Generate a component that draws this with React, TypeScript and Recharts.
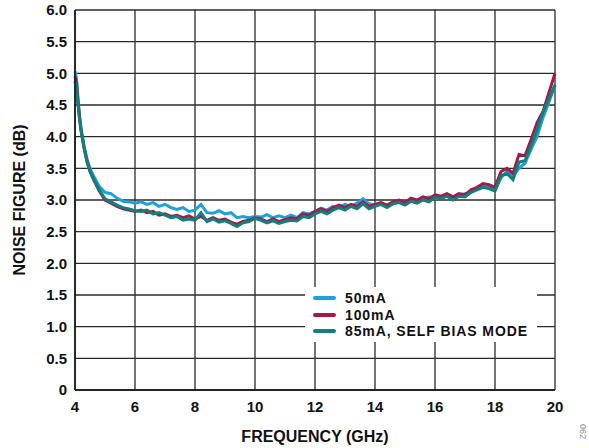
import React from 'react';
import { LineChart, Line, XAxis, YAxis, CartesianGrid, Label } from 'recharts';

const freqGHz = [
  4.0, 4.05, 4.1, 4.15, 4.2, 4.3, 4.4, 4.5, 4.6, 4.8,
  5.0, 5.2, 5.4, 5.6, 5.8, 6.0, 6.2, 6.4, 6.6, 6.8,
  7.0, 7.2, 7.4, 7.6, 7.8, 8.0, 8.2, 8.4, 8.6, 8.8,
  9.0, 9.2, 9.4, 9.6, 9.8, 10.0, 10.2, 10.4, 10.6, 10.8,
  11.0, 11.2, 11.4, 11.6, 11.8, 12.0, 12.2, 12.4, 12.6, 12.8,
  13.0, 13.2, 13.4, 13.6, 13.8, 14.0, 14.2, 14.4, 14.6, 14.8,
  15.0, 15.2, 15.4, 15.6, 15.8, 16.0, 16.2, 16.4, 16.6, 16.8,
  17.0, 17.2, 17.4, 17.6, 17.8, 18.0, 18.2, 18.4, 18.6, 18.8,
  19.0, 19.2, 19.4, 19.6, 19.8, 20.0,
];

// 50mA
const nf50 = [
  5.03, 4.92, 4.62, 4.35, 4.15, 3.86, 3.65, 3.5, 3.4, 3.22,
  3.12, 3.1, 3.03, 2.98, 2.97, 2.95, 2.97, 2.93, 2.96, 2.9,
  2.93, 2.88, 2.85, 2.88, 2.82, 2.84, 2.93, 2.8, 2.79, 2.83,
  2.78, 2.8, 2.72, 2.74, 2.72, 2.74, 2.73, 2.77, 2.72, 2.75,
  2.72, 2.76, 2.72, 2.8, 2.78, 2.82, 2.87, 2.84, 2.9, 2.88,
  2.93, 2.9, 2.95, 3.02, 2.94, 2.92, 2.95, 2.9, 2.95, 2.97,
  2.95, 3.0, 2.97, 3.0, 3.05, 3.02, 3.04, 3.07, 3.02, 3.08,
  3.1, 3.12, 3.18, 3.22, 3.2, 3.16, 3.35, 3.45, 3.38, 3.5,
  3.58, 3.8, 4.0, 4.3, 4.55, 4.8,
];

// 100mA
const nf100 = [
  4.95, 4.85, 4.55, 4.3, 4.1, 3.82, 3.6, 3.45, 3.34, 3.15,
  3.0, 2.95, 2.9, 2.86, 2.84, 2.82, 2.84, 2.8, 2.82, 2.76,
  2.78, 2.74, 2.76, 2.72, 2.75, 2.7, 2.74, 2.68, 2.72, 2.68,
  2.7, 2.65, 2.62, 2.66, 2.68, 2.72, 2.7, 2.66, 2.7, 2.66,
  2.69, 2.72, 2.7, 2.78, 2.76, 2.82, 2.86, 2.82, 2.88, 2.92,
  2.88, 2.93, 2.9, 2.97, 2.9, 2.93, 2.96, 2.92, 2.97, 3.0,
  2.96, 3.03, 3.0, 3.05, 3.02, 3.08, 3.06, 3.1, 3.05, 3.1,
  3.08, 3.16, 3.2, 3.26, 3.24, 3.2, 3.45, 3.5, 3.42, 3.72,
  3.7, 3.95, 4.22, 4.4, 4.7, 5.0,
];

// 85mA, self bias mode
const nf85 = [
  4.88, 4.75, 4.5, 4.28, 4.1, 3.84, 3.62, 3.46, 3.35, 3.17,
  3.02, 2.97, 2.92, 2.88, 2.86, 2.83, 2.82, 2.84, 2.78, 2.8,
  2.76, 2.72, 2.74, 2.68, 2.7, 2.68, 2.8, 2.66, 2.7, 2.65,
  2.67, 2.63, 2.58, 2.64, 2.66, 2.71, 2.68, 2.64, 2.67, 2.63,
  2.66, 2.68, 2.67, 2.74, 2.72, 2.78, 2.82, 2.78, 2.84, 2.88,
  2.84, 2.9, 2.86, 2.94, 2.86, 2.9, 2.93, 2.88, 2.94, 2.96,
  2.92, 2.98, 2.95, 3.0, 2.97, 3.04, 3.02, 3.06, 3.0, 3.06,
  3.05, 3.12, 3.16, 3.2, 3.18, 3.14, 3.38, 3.42, 3.32, 3.6,
  3.62, 3.85, 4.1, 4.38, 4.6, 4.82,
];

const xTicks = [4, 6, 8, 10, 12, 14, 16, 18, 20];
const yTicks = [0, 0.5, 1.0, 1.5, 2.0, 2.5, 3.0, 3.5, 4.0, 4.5, 5.0, 5.5, 6.0];

const series = [
  { key: 'nf50', name: '50mA', color: '#1aa3da' },
  { key: 'nf100', name: '100mA', color: '#a01a4a' },
  { key: 'nf85', name: '85mA, SELF BIAS MODE', color: '#117f7b' },
];

const rows = freqGHz.map((f, i) => ({ freq: f, nf50: nf50[i], nf100: nf100[i], nf85: nf85[i] }));

const FONT = '"Liberation Sans", Arial, sans-serif';
const tickStyle = { fill: '#111', fontSize: 15, fontWeight: 700, fontFamily: FONT };

// legend sits inside the plot, on a white box that hides the grid
const renderLegend = () => (
  <div
    style={{
      position: 'absolute', left: 305, top: 287, width: 232, height: 55,
      background: '#fff', padding: '3px 0 0 8px', boxSizing: 'border-box',
    }}
  >
    {series.map((s) => (
      <div key={`leg-${s.key}`} style={{ display: 'flex', alignItems: 'center', height: 16.5 }}>
        <div style={{ width: 23, height: 4, borderRadius: 2, background: s.color, marginRight: 9, flexShrink: 0 }} />
        <span
          style={{
            fontFamily: FONT, fontWeight: 700, fontSize: 14, letterSpacing: 0.9,
            color: '#111', lineHeight: '16px', whiteSpace: 'nowrap',
          }}
        >
          {s.name}
        </span>
      </div>
    ))}
  </div>
);

export default function App() {
  return (
    <div style={{ position: 'absolute', left: 0, top: 0, width: 589, height: 448, background: '#fff' }}>
      <LineChart width={589} height={448} data={rows} margin={{ top: 10, right: 34, bottom: 0, left: 0 }}>
        <CartesianGrid stroke="#2a2a2a" strokeWidth={1.3} />
        <XAxis
          dataKey="freq"
          type="number"
          domain={[4, 20]}
          ticks={xTicks}
          tickLine={false}
          tickSize={0}
          tickMargin={11}
          height={58}
          axisLine={{ stroke: '#111', strokeWidth: 1.5 }}
          tick={tickStyle}
        >
          <Label
            value="FREQUENCY (GHz)"
            position="insideBottom"
            offset={6}
            style={{ fill: '#111', fontSize: 16, fontWeight: 700, fontFamily: FONT }}
          />
        </XAxis>
        <YAxis
          type="number"
          domain={[0, 6]}
          ticks={yTicks}
          width={75}
          tickLine={false}
          tickSize={0}
          tickMargin={8}
          interval={0}
          axisLine={{ stroke: '#111', strokeWidth: 1.5 }}
          tick={tickStyle}
          tickFormatter={(v: number) => (v === 0 ? '0' : v.toFixed(1))}
        >
          <Label
            content={() => (
              <text
                x={19}
                y={200}
                transform="rotate(-90 19 200)"
                textAnchor="middle"
                dominantBaseline="central"
                style={{ fill: '#111', fontSize: 16, fontWeight: 700, fontFamily: FONT }}
              >
                NOISE FIGURE (dB)
              </text>
            )}
          />
        </YAxis>
        {series.map((s) => (
          <Line
            key={s.key}
            dataKey={s.key}
            name={s.name}
            type="linear"
            stroke={s.color}
            strokeWidth={3}
            dot={false}
            isAnimationActive={false}
          />
        ))}
      </LineChart>
      {renderLegend()}
      <div
        style={{
          position: 'absolute', left: 588, top: 424, fontFamily: FONT, fontSize: 9, color: '#888',
          transform: 'rotate(90deg)', transformOrigin: 'left top',
        }}
      >
        062
      </div>
    </div>
  );
}
